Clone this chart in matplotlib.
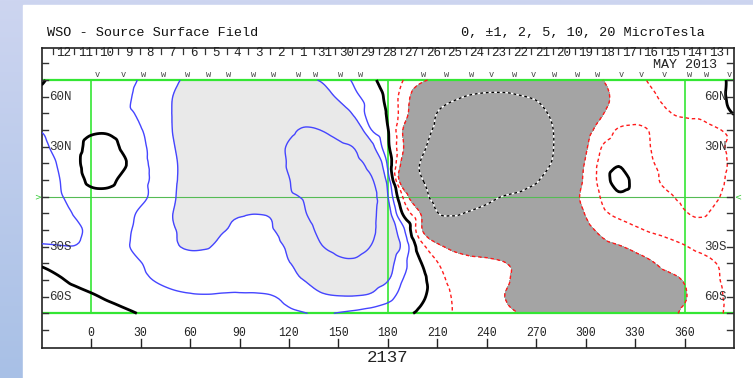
import numpy as np
import matplotlib
matplotlib.use('Agg')
import matplotlib.pyplot as plt
import matplotlib.tri as mtri
from matplotlib.patches import Rectangle

# ---------------- data ----------------
lons = list(range(-30, 391, 10))          # grid longitudes (43)
lats = [70, 60, 50, 40, 30, 20, 10, 0, -10, -20, -30, -40, -50, -60, -70]

# source-surface field (microTesla), one list per latitude row, lon -30..390
field_p70 = [0.1,-0.3,-0.5,-0.6,-0.7,-0.85,-1.05,-1.4,-1.85,-2.2,-2.5,-2.7,-2.8,-2.8,-2.7,-2.5,-2.2,-1.9,-1.4,-0.85,-0.2,0.45,1.05,1.75,2.3,2.7,3.0,3.2,3.3,3.3,3.2,3.0,2.7,2.35,2.02,1.6,1.25,0.9,0.7,0.55,0.4,0.15,-0.15]
field_p60 = [-0.2,-0.4,-0.55,-0.65,-0.75,-0.9,-1.15,-1.6,-2.02,-2.4,-2.8,-3.0,-3.2,-3.3,-3.3,-3.2,-3.0,-2.5,-1.85,-1.2,-0.55,0.25,1.5,2.9,3.9,4.6,5.2,5.5,5.5,5.15,4.7,4.0,3.3,2.8,2.2,1.8,1.45,1.1,0.85,0.7,0.55,0.2,-0.2]
field_p50 = [-0.3,-0.45,-0.6,-0.7,-0.8,-0.9,-1.1,-1.6,-2.05,-2.5,-2.9,-3.2,-3.5,-3.7,-3.9,-4.0,-3.9,-3.5,-2.7,-1.8,-0.5,0.1,1.6,3.3,5.05,6.0,6.6,6.9,7.0,6.7,5.9,4.6,3.5,2.7,2.05,1.7,1.4,1.2,1.03,0.9,0.85,0.5,-0.05]
field_p40 = [-0.95,-0.7,-0.4,-0.15,-0.15,-0.5,-0.95,-1.4,-2.05,-2.7,-3.2,-3.6,-3.9,-4.2,-4.5,-4.7,-5.2,-4.95,-4.2,-3.0,-1.02,-0.05,2.2,4.0,5.4,6.3,7.0,7.4,7.5,7.3,6.6,5.05,3.6,2.4,1.6,0.9,0.8,1.05,1.3,1.35,1.25,1.05,0.8]
field_p30 = [-1.15,-0.8,-0.35,0.3,0.4,-0.2,-0.8,-1.35,-1.95,-2.6,-3.3,-3.9,-4.3,-4.4,-4.65,-5.1,-5.7,-5.9,-5.5,-4.8,-2.4,-0.2,2.1,4.4,6.0,7.0,7.6,7.9,8.0,7.7,6.9,5.1,3.5,2.15,0.98,0.6,0.75,1.02,1.3,1.4,1.35,1.2,0.7]
field_p20 = [-1.3,-0.95,-0.3,0.5,0.6,0.1,-0.75,-1.25,-1.85,-2.5,-3.3,-4.0,-4.2,-4.3,-4.6,-5.1,-5.9,-6.6,-6.6,-5.8,-4.0,-0.8,2.7,5.1,6.6,7.5,8.0,8.3,8.3,7.8,6.8,4.8,3.2,1.9,0.7,0.1,0.6,0.95,1.2,1.35,1.35,1.25,0.8]
field_p10 = [-1.35,-1.05,-0.5,0.25,0.3,-0.3,-0.8,-1.2,-1.85,-2.5,-3.3,-4.0,-4.3,-4.4,-4.6,-4.95,-6.0,-7.0,-7.2,-6.6,-5.3,-1.5,3.3,4.8,6.3,7.3,7.9,8.1,7.9,7.2,5.3,3.8,2.8,1.8,0.6,-0.4,0.3,0.8,1.2,1.4,1.4,1.2,0.7]
field_eq = [-1.4,-1.1,-0.75,-0.4,-0.35,-0.6,-0.85,-1.25,-1.9,-2.6,-3.3,-3.9,-4.2,-4.3,-4.5,-4.7,-5.3,-6.6,-7.6,-7.5,-6.2,-2.05,1.3,3.8,6.0,6.6,6.5,5.8,4.9,4.3,3.8,3.2,2.5,1.7,0.9,0.2,0.4,0.6,0.9,1.15,1.2,1.05,0.6]
field_m10 = [-1.45,-1.3,-0.95,-0.7,-0.6,-0.8,-1.1,-1.5,-2.02,-2.5,-2.6,-2.4,-2.2,-2.05,-2.3,-3.3,-4.9,-6.5,-7.5,-7.4,-5.9,-2.6,0.3,2.05,4.9,5.2,4.8,4.4,4.0,3.7,3.4,3.0,2.5,1.95,1.2,0.8,0.6,0.55,0.7,0.95,1.1,0.8,0.5]
field_m20 = [-1.3,-1.35,-1.15,-0.85,-0.75,-0.9,-1.15,-1.55,-1.95,-2.2,-2.25,-2.05,-1.8,-1.75,-1.95,-2.6,-4.0,-5.8,-6.9,-6.9,-5.6,-3.0,-1.05,1.8,3.4,3.9,4.0,3.9,3.8,3.6,3.4,3.1,2.7,2.25,1.8,1.45,1.15,0.9,0.75,0.65,0.6,0.55,0.5]
field_m30 = [-0.9,-0.95,-0.98,-0.85,-0.8,-0.92,-1.2,-1.6,-1.9,-2.1,-2.05,-1.8,-1.6,-1.55,-1.75,-2.2,-3.4,-4.9,-5.6,-5.7,-4.9,-3.0,-1.6,0.6,1.7,2.3,2.55,2.6,2.7,2.8,2.8,2.75,2.6,2.4,2.2,2.05,1.85,1.6,1.3,1.05,0.8,0.6,0.5]
field_m40 = [-0.1,-0.3,-0.5,-0.65,-0.75,-0.9,-0.98,-1.25,-1.45,-1.55,-1.6,-1.6,-1.55,-1.6,-1.75,-1.95,-2.6,-3.8,-4.5,-4.6,-3.9,-2.5,-1.2,-0.05,0.95,1.5,1.7,1.8,1.95,2.2,2.4,2.5,2.55,2.5,2.45,2.35,2.2,2.05,1.8,1.55,1.3,0.98,0.8]
field_m50 = [0.3,0.1,-0.15,-0.35,-0.5,-0.7,-0.85,-1.05,-1.2,-1.25,-1.3,-1.3,-1.35,-1.4,-1.5,-1.75,-2.05,-2.6,-2.9,-2.9,-2.6,-2.05,-0.9,-0.3,0.6,1.3,1.6,1.75,1.9,2.15,2.35,2.5,2.55,2.55,2.5,2.45,2.35,2.25,2.15,1.95,1.5,1.05,0.8]
field_m60 = [0.6,0.45,0.3,0.1,-0.1,-0.3,-0.5,-0.7,-0.85,-0.93,-0.95,-0.92,-0.9,-0.9,-0.97,-1.2,-1.6,-1.85,-1.95,-1.95,-1.8,-1.3,-0.6,-0.15,0.4,1.1,1.5,1.8,1.98,2.2,2.35,2.45,2.5,2.5,2.45,2.4,2.35,2.3,2.2,2.05,1.6,1.1,0.85]
field_m70 = [0.9,0.75,0.6,0.45,0.3,0.15,-0.05,-0.3,-0.5,-0.6,-0.65,-0.65,-0.65,-0.7,-0.8,-0.9,-0.98,-1.1,-0.95,-0.8,-0.6,-0.4,-0.15,0.15,0.6,1.05,1.4,1.65,1.85,2.02,2.2,2.3,2.35,2.35,2.3,2.25,2.2,2.15,2.1,1.9,1.5,1.1,0.85]

neg_levels = [-20, -10, -5, -2, -1]
pos_levels = [1, 2]
strong_levels = [5, 10, 20]
shade_level = 2

day_labels = ['12', '11', '10', '9', '8', '7', '6', '5', '4', '3', '2', '1', '31', '30',
              '29', '28', '27', '26', '25', '24', '23', '22', '21', '20', '19', '18',
              '17', '16', '15', '14', '13']
month_label = 'MAY 2013'
rotation_label = '2137'
lon_ticks = [0, 30, 60, 90, 120, 150, 180, 210, 240, 270, 300, 330, 360]
lat_tick_labels = {60: '60N', 30: '30N', -30: '30S', -60: '60S'}

obs_lons = [3.8, 19.6, 31.7, 44.1, 58.3, 71.4, 83.5, 98.6, 110.7, 125.5, 136.0, 151.1,
            163.2, 201.5, 215.7, 230.8, 242.9, 257.0, 268.1, 281.3, 295.3, 307.4,
            321.6, 333.7, 347.8, 363.0, 373.1, 387.2]
obs_syms = ['v', 'v', 'w', 'w', 'w', 'w', 'w', 'w', 'w', 'w', 'w', 'w',
            'w', 'w', 'w', 'w', 'v', 'w', 'v', 'w', 'w', 'w',
            'v', 'v', 'v', 'w', 'w', 'v']

# ---------------- layout ----------------
W, H = 753, 378
mono = 'Liberation Mono'
fig = plt.figure(figsize=(W / 100, H / 100), dpi=100)

# background: bluish margin on the left and top, white panel
bg = fig.add_axes([0, 0, 1, 1], zorder=-10)
grad = np.linspace(0, 1, 200)[:, None]
top_c = np.array([205, 213, 240]) / 255.0
bot_c = np.array([168, 192, 230]) / 255.0
img = (top_c[None, None, :] * (1 - grad[..., None]) + bot_c[None, None, :] * grad[..., None])
bg.imshow(img, aspect='auto', extent=[0, 1, 0, 1])
bg.add_patch(Rectangle((23 / W, 0), 1, (H - 5) / H, color='white', transform=bg.transAxes))
bg.set_xlim(0, 1)
bg.set_ylim(0, 1)
bg.axis('off')

x0, x1 = 41.7, 734.0
y0, y1 = 47.7, 347.7
ax = fig.add_axes([x0 / W, 1 - y1 / H, (x1 - x0) / W, (y1 - y0) / H])
ax.set_xlim(-30, 390)
ylo, yhi = -90.6, 89.4
ax.set_ylim(ylo, yhi)
ax.set_xticks([])
ax.set_yticks([])
for s in ax.spines.values():
    s.set_color('#222222')
    s.set_linewidth(1.2)

rows = [field_p70, field_p60, field_p50, field_p40, field_p30, field_p20, field_p10, field_eq,
        field_m10, field_m20, field_m30, field_m40, field_m50, field_m60, field_m70]
Z = np.array(rows, dtype=float)[::-1]
lat_arr = np.array(lats, dtype=float)[::-1]
LON, LAT = np.meshgrid(np.array(lons, dtype=float), lat_arr)

# smooth contour rendering with matplotlib's own triangular refiner
triang = mtri.Triangulation(LON.ravel(), LAT.ravel())
refiner = mtri.UniformTriRefiner(triang)
interp = mtri.CubicTriInterpolator(triang, Z.ravel(), kind='geom')
tri_r, z_r = refiner.refine_field(Z.ravel(), triinterpolator=interp, subdiv=3)

ax.tricontourf(tri_r, z_r, levels=[-100, -shade_level], colors=['#e9e9e9'], zorder=1)
ax.tricontourf(tri_r, z_r, levels=[shade_level, 100], colors=['#a4a4a4'], zorder=1)

# green reference lines
g = '#33e633'
ax.plot([-30, 390], [70, 70], color=g, lw=1.6, zorder=2)
ax.plot([-30, 390], [-70, -70], color=g, lw=1.6, zorder=2)
ax.plot([-30, 390], [0, 0], color='#55bb55', lw=0.8, zorder=2)
for lv in (0, 180, 360):
    ax.plot([lv, lv], [-70, 70], color=g, lw=1.2, zorder=2)

ax.tricontour(tri_r, z_r, levels=neg_levels, colors='#4545ff', linewidths=1.0,
              linestyles='solid', zorder=3)
ax.tricontour(tri_r, z_r, levels=pos_levels, colors='#ff1a1a', linewidths=1.0,
              linestyles=[(0, (2.5, 2))], zorder=3)
ax.tricontour(tri_r, z_r, levels=strong_levels, colors='white', linewidths=1.0,
              linestyles='solid', zorder=3)
ax.tricontour(tri_r, z_r, levels=strong_levels, colors='black', linewidths=1.0,
              linestyles=[(0, (2, 2))], zorder=3)
ax.tricontour(tri_r, z_r, levels=[0], colors='black', linewidths=2.0,
              linestyles='solid', zorder=4)

# observation markers along the top edge
for lo, sy in zip(obs_lons, obs_syms):
    ax.text(lo, 70.6, sy, family=mono, fontsize=6.2, color='#444444',
            ha='center', va='bottom', zorder=5)

# latitude ticks on both sides
for la in range(-80, 81, 10):
    ax.plot([-30, -26.2], [la, la], color='#333333', lw=1.0, zorder=5)
    ax.plot([390, 385.8], [la, la], color='#333333', lw=1.0, zorder=5)
for la, lab in lat_tick_labels.items():
    ax.text(-25.4, la, lab, family=mono, fontsize=9, color='#333333',
            ha='left', va='center', zorder=5)
    ax.text(385.4, la, lab, family=mono, fontsize=9, color='#333333',
            ha='right', va='center', zorder=5)

# longitude ticks and labels in the bottom strip
for lo in lon_ticks:
    ax.plot([lo, lo], [ylo, -85.6], color='#222222', lw=1.0, zorder=5)
    ax.text(lo, -81.6, str(lo), family=mono, fontsize=8.3, color='#222222',
            ha='center', va='center', zorder=5)

# day ticks and labels in the top strip
first_day_tick = -23.4
day_step = 13.2
for k in range(len(day_labels) + 1):
    p = first_day_tick + k * day_step
    ax.plot([p, p], [yhi, 85.8], color='#333333', lw=0.9, zorder=5)
for i, lab in enumerate(day_labels):
    c = first_day_tick + (i + 0.5) * day_step
    ax.text(c, 86.2, lab, family=mono, fontsize=9, color='#222222',
            ha='center', va='center', zorder=5)
ax.text(379.5, 79.0, month_label, family=mono, fontsize=9.6, color='#222222',
        ha='right', va='center', zorder=5)

# green equator markers at the frame
ax.text(-30.3, 0, '>', color='#33cc33', fontsize=6, ha='right', va='center',
        clip_on=False, zorder=6)
ax.text(390.3, 0, '<', color='#33cc33', fontsize=6, ha='left', va='center',
        clip_on=False, zorder=6)

# header texts
fig.text(46.7 / W, 1 - 32.5 / H, 'WSO - Source Surface Field', family=mono,
         fontsize=9.7, color='#111111', ha='left', va='center')
fig.text(460.7 / W, 1 - 32.5 / H, '0, \u00b11, 2, 5, 10, 20 MicroTesla', family=mono,
         fontsize=9.7, color='#111111', ha='left', va='center')
fig.text(388 / W, 1 - 357 / H, rotation_label, family=mono, fontsize=12.5,
         color='#222222', ha='center', va='center')

fig.savefig('out.png', dpi=100)
